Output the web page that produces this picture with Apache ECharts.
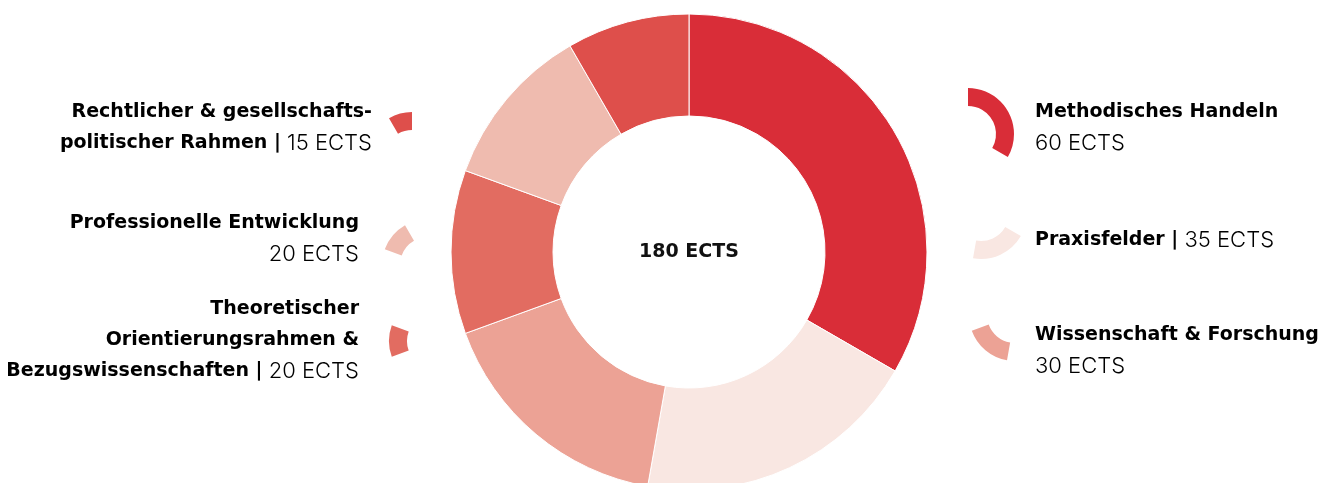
<!DOCTYPE html>
<html>
<head>
<meta charset="utf-8">
<script src="https://cdn.jsdelivr.net/npm/echarts@6/dist/echarts.min.js"></script>
<style>
  html, body { margin: 0; padding: 0; background: #fff; }
  #chart { width: 1332px; height: 483px; }
</style>
</head>
<body>
<div id="chart"></div>
<script>
// module names + ECTS points, clockwise from 12 o'clock
const categories = [
  'Methodisches Handeln',
  'Praxisfelder',
  'Wissenschaft & Forschung',
  'Theoretischer Orientierungsrahmen & Bezugswissenschaften',
  'Professionelle Entwicklung',
  'Rechtlicher & gesellschaftspolitischer Rahmen'
];
const ects = [60, 35, 30, 20, 20, 15];
const total = 180;

const colors = ['#d92d38', '#f9e7e2', '#eca295', '#e26c61', '#efbbaf', '#de4f4b'];

const BOLD_FONT = '"DejaVu Sans", sans-serif';
const LIGHT_FONT = 'Inter, "Noto Sans", sans-serif';

const chart = echarts.init(document.getElementById('chart'));

// small ring pieces next to each label (same angles as the big ring)
const iconCenters = [
  [968, 134], [981, 213], [1015, 315],
  [435, 341], [428, 265], [412, 158]
];

const iconSeries = iconCenters.map((c, idx) => ({
  type: 'pie',
  silent: true,
  center: c,
  radius: [28, 46],
  startAngle: 90,
  label: { show: false },
  labelLine: { show: false },
  emphasis: { disabled: true },
  data: ects.map((v, i) => ({
    name: categories[i],
    value: v,
    itemStyle: { color: i === idx ? colors[i] : 'rgba(0,0,0,0)' }
  }))
}));

const rich = {
  b: { fontFamily: BOLD_FONT, fontWeight: 700, fontSize: 19, color: '#111', lineHeight: 31 },
  l: { fontFamily: LIGHT_FONT, fontWeight: 300, fontSize: 22, color: '#222', lineHeight: 31 }
};

function label(x, y, align, text) {
  return {
    type: 'text',
    x: x,
    y: y,
    style: {
      text: text,
      align: align,
      verticalAlign: 'middle',
      rich: rich
    }
  };
}

chart.setOption({
  animation: false,
  series: [
    {
      type: 'pie',
      center: [689, 252],
      radius: [136, 238],
      startAngle: 90,
      label: { show: false },
      labelLine: { show: false },
      itemStyle: { borderColor: '#fff', borderWidth: 1 },
      data: ects.map((v, i) => ({
        name: categories[i],
        value: v,
        itemStyle: { color: colors[i] }
      }))
    }
  ].concat(iconSeries),
  graphic: [
    {
      type: 'text',
      x: 689,
      y: 252,
      style: {
        text: total + ' ECTS',
        align: 'center',
        verticalAlign: 'middle',
        fontFamily: BOLD_FONT,
        fontWeight: 700,
        fontSize: 19,
        fill: '#111'
      }
    },
    label(1035, 128, 'left', '{b|Methodisches Handeln}\n{l|' + ects[0] + ' ECTS}'),
    label(1035, 240, 'left', '{b|Praxisfelder |}{l| ' + ects[1] + ' ECTS}'),
    label(1035, 351, 'left', '{b|Wissenschaft & Forschung}\n{l|' + ects[2] + ' ECTS}'),
    label(372, 128, 'right', '{b|Rechtlicher & gesellschafts-}\n{b|politischer Rahmen |}{l| ' + ects[5] + ' ECTS}'),
    label(359, 239, 'right', '{b|Professionelle Entwicklung}\n{l|' + ects[4] + ' ECTS}'),
    label(359, 340, 'right', '{b|Theoretischer}\n{b|Orientierungsrahmen &}\n{b|Bezugswissenschaften |}{l| ' + ects[3] + ' ECTS}')
  ]
});
</script>
</body>
</html>
